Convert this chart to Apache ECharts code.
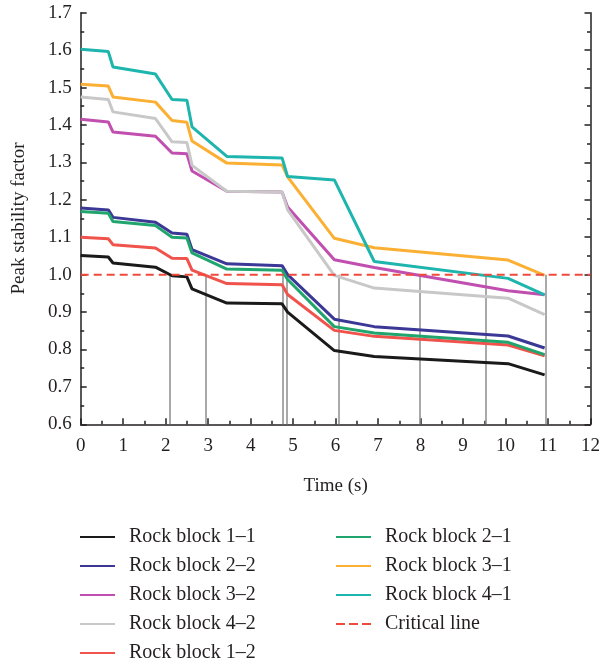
<!DOCTYPE html>
<html>
<head>
<meta charset="utf-8">
<script src="https://cdn.jsdelivr.net/npm/echarts@6/dist/echarts.min.js"></script>
<style>html,body{margin:0;padding:0;background:#fff}#c{width:603px;height:665px}</style>
</head>
<body>
<div id="c"></div>
<script>
// Time breakpoints (s)
const times = [0, 0.65, 0.76, 1.76, 2.15, 2.5, 2.62, 3.44, 4.74, 4.87, 5.97, 6.91, 10.06, 10.92];
// Peak stability factor per rock block
const block11 = [1.051, 1.047, 1.031, 1.020, 0.997, 0.994, 0.962, 0.924, 0.922, 0.900, 0.797, 0.781, 0.762, 0.732];
const block22 = [1.178, 1.173, 1.153, 1.140, 1.111, 1.108, 1.067, 1.029, 1.024, 1.000, 0.881, 0.861, 0.836, 0.804];
const block32 = [1.415, 1.408, 1.381, 1.370, 1.325, 1.323, 1.277, 1.223, 1.221, 1.181, 1.040, 1.019, 0.957, 0.946];
const block42 = [1.475, 1.468, 1.435, 1.417, 1.355, 1.353, 1.292, 1.223, 1.221, 1.173, 0.998, 0.964, 0.937, 0.893];
const block12 = [1.100, 1.096, 1.080, 1.071, 1.044, 1.043, 1.012, 0.976, 0.973, 0.947, 0.851, 0.835, 0.812, 0.783];
const block21 = [1.169, 1.164, 1.142, 1.131, 1.100, 1.098, 1.058, 1.015, 1.012, 0.987, 0.861, 0.844, 0.819, 0.786];
const block31 = [1.509, 1.504, 1.475, 1.461, 1.412, 1.407, 1.357, 1.298, 1.293, 1.261, 1.097, 1.072, 1.039, 0.998];
const block41 = [1.602, 1.596, 1.555, 1.536, 1.468, 1.466, 1.395, 1.316, 1.312, 1.262, 1.253, 1.035, 0.990, 0.946];
// Times where curves cross the critical line
const crossTimes = [2.09, 2.94, 4.76, 4.86, 6.08, 7.97, 9.54, 10.94];
const criticalValue = 1.0;

const names = ['Rock block 1\u20131','Rock block 2\u20132','Rock block 3\u20132','Rock block 4\u20132','Rock block 1\u20132',
               'Rock block 2\u20131','Rock block 3\u20131','Rock block 4\u20131','Critical line'];
const values = [block11, block22, block32, block42, block12, block21, block31, block41];
const colors = ['#1a1a1a','#3b3896','#c04fb0','#c8c8c8','#f0534b','#1fa56d','#fbb034','#1db5ad'];

const font = 'Liberation Serif';
const txt = '#231f20';
const chart = echarts.init(document.getElementById('c'));

const series = values.map((v, i) => ({
  name: names[i], type: 'line', symbol: 'none', z: 3,
  data: v.map((y, j) => [times[j], y]),
  lineStyle: {color: colors[i], width: 3}, itemStyle: {color: colors[i]}
}));
series.push({
  name: names[8], type: 'line', symbol: 'none', z: 4,
  data: [[0, criticalValue], [12, criticalValue]],
  lineStyle: {color: '#f04a3c', width: 2, type: [8, 5]}, itemStyle: {color: '#f04a3c'},
  markLine: {
    silent: true, symbol: 'none', label: {show: false}, z: 1,
    lineStyle: {color: '#8c8c8c', width: 1.5, type: 'solid'},
    data: crossTimes.map(t => [{coord: [t, 0.6]}, {coord: [t, criticalValue]}])
  }
});

const axisCommon = {
  axisLine: {show: true, lineStyle: {color: '#231f20', width: 1.5}},
  axisTick: {show: true, inside: true, length: 6, lineStyle: {color: '#231f20', width: 1.5}},
  minorTick: {show: true, splitNumber: 2, length: 3.5, lineStyle: {color: '#231f20', width: 1.5}},
  splitLine: {show: false}
};

const legendCommon = {
  orient: 'vertical', top: 527, padding: 0, itemWidth: 35, itemHeight: 2, itemGap: 9,
  textStyle: {fontFamily: font, fontSize: 20, color: txt, lineHeight: 20, padding: [0, 0, 0, 9]}
};
const lineIcon = 'rect';
const dashIcon = 'path://M0,0h9v2h-9zM13,0h9v2h-9zM26,0h9v2h-9z';
const legendItems = names.map((n, i) => ({name: n, icon: i === 8 ? dashIcon : lineIcon}));

chart.setOption({
  animation: false,
  backgroundColor: '#fff',
  grid: {left: 80.7, right: 10, top: 12.7, bottom: 240.7, containLabel: false},
  legend: [
    Object.assign({left: 80, data: legendItems.slice(0, 5)}, legendCommon),
    Object.assign({left: 336, data: legendItems.slice(5)}, legendCommon)
  ],
  xAxis: Object.assign({
    type: 'value', min: 0, max: 12, interval: 1,
    name: 'Time (s)', nameLocation: 'middle', nameGap: 52,
    nameTextStyle: {fontFamily: font, fontSize: 19, color: txt},
    axisLabel: {fontFamily: font, fontSize: 19, color: txt, margin: 12}
  }, axisCommon),
  yAxis: [
    Object.assign({
      type: 'value', min: 0.6, max: 1.7, interval: 0.1,
      name: 'Peak stability factor', nameLocation: 'middle', nameGap: 52,
      nameTextStyle: {fontFamily: font, fontSize: 19, color: txt},
      axisLabel: {fontFamily: font, fontSize: 19, color: txt, margin: 9, formatter: v => v.toFixed(1)}
    }, axisCommon),
    Object.assign({
      type: 'value', min: 0.6, max: 1.7, interval: 0.1, position: 'right',
      axisLabel: {show: false}
    }, axisCommon)
  ],
  series: series
});
</script>
</body>
</html>
